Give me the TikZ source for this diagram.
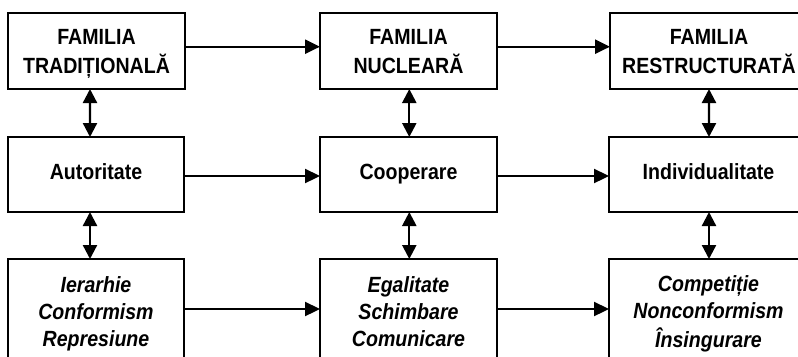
\documentclass[tikz,border=0pt]{standalone}
\usepackage{fontspec}
\setmainfont{Liberation Sans}[FakeStretch=0.89]
\usetikzlibrary{arrows.meta}
\begin{document}
\begin{tikzpicture}[x=1bp,y=-1bp,
  box/.style={draw,line width=2.2bp,inner sep=0pt,outer sep=0pt},
  txt/.style={align=center,inner sep=0pt,font=\bfseries\fontsize{22bp}{27bp}\selectfont},
  ittxt/.style={txt,font=\bfseries\itshape\fontsize{22bp}{27bp}\selectfont},
  arr/.style={line width=2.3bp,-{Triangle[length=15bp,width=14bp]}},
  darr/.style={line width=2.3bp,{Triangle[length=14bp,width=14bp]}-{Triangle[length=14bp,width=14bp]}}]
\useasboundingbox (0,0) rectangle (798,356);
\clip (0,0) rectangle (798,356);
% top row
\node[box,minimum width=177bp,minimum height=76bp,
  label={[txt,yshift=-2.8bp]center:\strut FAMILIA\\\strut TRADIȚIONALĂ}] (t1) at (96.5,51) {};
\node[box,minimum width=177bp,minimum height=76bp,
  label={[txt,yshift=-2.8bp]center:\strut FAMILIA\\\strut NUCLEARĂ}] (t2) at (408.5,51) {};
\node[box,minimum width=198bp,minimum height=76bp,
  label={[txt,yshift=-2.8bp]center:\strut FAMILIA\\\strut RESTRUCTURATĂ}] (t3) at (709,51) {};
% middle row
\node[box,minimum width=176bp,minimum height=75bp,
  label={[txt,yshift=0.6bp]center:\strut Autoritate}] (m1) at (96,174.5) {};
\node[box,minimum width=177bp,minimum height=75bp,
  label={[txt,yshift=0.6bp]center:\strut Cooperare}] (m2) at (408.5,174.5) {};
\node[box,minimum width=199bp,minimum height=75bp,
  label={[txt,yshift=0.6bp]center:\strut Individualitate}] (m3) at (708.5,174.5) {};
% bottom row
\node[box,minimum width=176bp,minimum height=106bp,
  label={[ittxt,yshift=-2.3bp]center:\strut Ierarhie\\\strut Conformism\\\strut Represiune}] (b1) at (96,312) {};
\node[box,minimum width=177bp,minimum height=106bp,
  label={[ittxt,yshift=-2.3bp]center:\strut Egalitate\\\strut Schimbare\\\strut Comunicare}] (b2) at (408.5,312) {};
\node[box,minimum width=199bp,minimum height=106bp,
  label={[ittxt,yshift=-2.3bp]center:\strut Competiție\\\strut Nonconformism\\\strut Însingurare}] (b3) at (708.5,312) {};
% horizontal arrows
\draw[arr] ([yshift=4.3bp]t1.east) -- ([yshift=4.3bp]t2.west);
\draw[arr] ([yshift=4.3bp]t2.east) -- ([yshift=4.3bp]t3.west);
\draw[arr] ([yshift=-1.5bp]m1.east) -- ([yshift=-1.5bp]m2.west);
\draw[arr] ([yshift=-1.5bp]m2.east) -- ([yshift=-1.5bp]m3.west);
\draw[arr] ([yshift=3bp]b1.east) -- ([yshift=3bp]b2.west);
\draw[arr] ([yshift=3bp]b2.east) -- ([yshift=3bp]b3.west);
% vertical double arrows
\draw[darr] ([xshift=-6.5bp]t1.south) -- ([xshift=-6bp]m1.north);
\draw[darr] ([xshift=-6bp]m1.south) -- ([xshift=-6bp]b1.north);
\draw[darr] ([xshift=0.8bp]t2.south) -- ([xshift=0.8bp]m2.north);
\draw[darr] ([xshift=0.8bp]m2.south) -- ([xshift=0.8bp]b2.north);
\draw[darr] (t3.south) -- ([xshift=0.5bp]m3.north);
\draw[darr] ([xshift=0.5bp]m3.south) -- ([xshift=0.5bp]b3.north);
\end{tikzpicture}
\end{document}
